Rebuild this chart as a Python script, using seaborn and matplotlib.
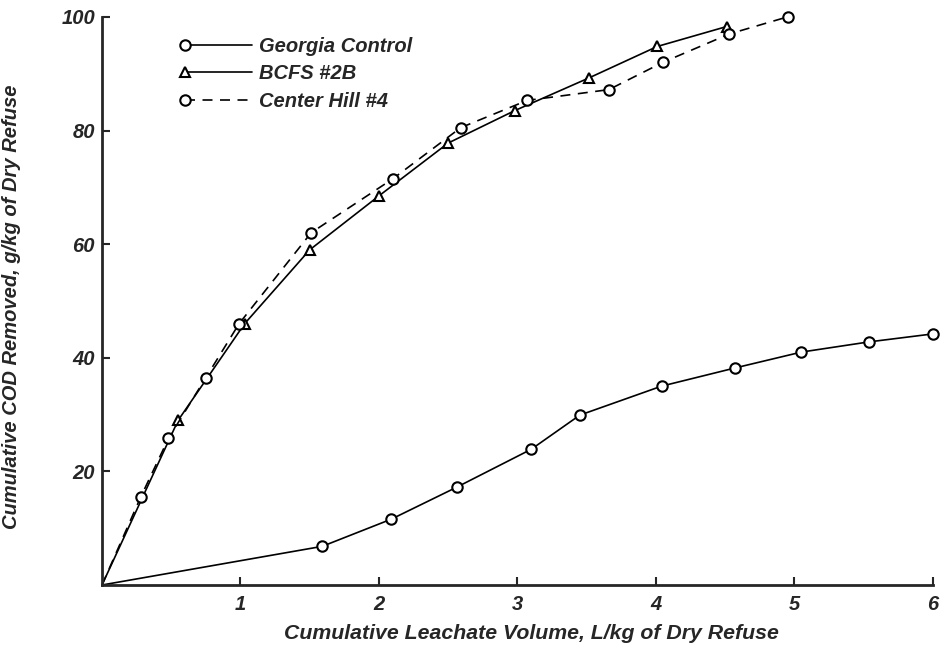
import numpy as np
import pandas as pd
import matplotlib
matplotlib.use("Agg")
import matplotlib.pyplot as plt
import seaborn as sns
from matplotlib.legend_handler import HandlerLine2DCompound

# 数据
georgia_x = [0, 1.59, 2.09, 2.56, 3.10, 3.45, 4.04, 4.57, 5.05, 5.54, 6.0]
georgia_y = [0, 6.8, 11.6, 17.2, 23.9, 29.9, 35.0, 38.2, 41.0, 42.8, 44.2]

bcfs_x = [0, 0.55, 1.03, 1.50, 2.00, 2.50, 2.98, 3.52, 4.01, 4.51]
bcfs_y = [0, 29.0, 46.0, 59.0, 68.5, 77.8, 83.5, 89.3, 94.8, 98.3]

center_x = [0, 0.28, 0.48, 0.75, 0.99, 1.51, 2.10, 2.59, 3.07, 3.66, 4.05, 4.53, 4.95]
center_y = [0, 15.5, 25.8, 36.5, 46.0, 62.0, 71.5, 80.5, 85.3, 87.2, 92.0, 97.0, 100.0]

x_ticks = [1, 2, 3, 4, 5, 6]
y_ticks = [20, 40, 60, 80, 100]


class LeftMarkerHandler(HandlerLine2DCompound):
    # 图例: 标记放在线段左端
    def get_xdata(self, legend, xdescent, ydescent, width, height, fontsize):
        xdata = np.array([-xdescent, -xdescent + width])
        return xdata, np.array([-xdescent])

    def create_artists(self, *args, **kwargs):
        artists = super().create_artists(*args, **kwargs)
        for a in artists:
            a.set_markevery(None)
        return artists


sns.set_style("ticks")
plt.rcParams['font.family'] = ['Liberation Sans', 'DejaVu Sans']

fig = plt.figure(figsize=(9.4, 6.5), dpi=100)
ax = fig.add_axes([0.1085, 0.10, 0.884, 0.874])

line_kw = dict(color='black', linewidth=1.2, markersize=7.5, markeredgewidth=1.5,
               markerfacecolor='white', markeredgecolor='black',
               markevery=slice(1, None), sort=False, estimator=None, clip_on=False)

sns.lineplot(x=georgia_x, y=georgia_y, ax=ax, marker='o', linestyle='-',
             label='Georgia Control', **line_kw)
sns.lineplot(x=bcfs_x, y=bcfs_y, ax=ax, marker='^', linestyle='-',
             label='BCFS #2B', **line_kw)
sns.lineplot(x=center_x, y=center_y, ax=ax, marker='o', linestyle=(0, (6, 4.5)),
             label='Center Hill #4', **line_kw)

ax.set_xlim(0, 6)
ax.set_ylim(0, 100)
ax.set_xticks(x_ticks)
ax.set_yticks(y_ticks)
ax.set_xticklabels([str(t) for t in x_ticks], fontsize=14.5, fontweight='bold', fontstyle='italic')
ax.set_yticklabels([str(t) for t in y_ticks], fontsize=14.5, fontweight='bold', fontstyle='italic')
ax.tick_params(direction='in', length=6, width=1.5)
ax.tick_params(axis='x', pad=7)
ax.tick_params(axis='y', pad=5)

sns.despine(ax=ax)
for s in ['left', 'bottom']:
    ax.spines[s].set_linewidth(2)

ax.set_xlabel('Cumulative Leachate Volume, L/kg of Dry Refuse', fontsize=15.3,
              fontweight='bold', fontstyle='italic')
ax.set_ylabel('Cumulative COD Removed, g/kg of Dry Refuse', fontsize=14.5,
              fontweight='bold', fontstyle='italic')
ax.xaxis.set_label_coords(0.517, -0.068)
ax.yaxis.set_label_coords(-0.097, 0.49)

handles, labels = ax.get_legend_handles_labels()
leg = ax.legend(handles, labels, loc='upper left', bbox_to_anchor=(0.10, 0.965),
                frameon=False, fontsize=14.5, handlelength=3.3, handletextpad=0.35,
                labelspacing=0.42, borderpad=0, borderaxespad=0,
                handler_map={h: LeftMarkerHandler() for h in handles})
for t in leg.get_texts():
    t.set_fontweight('bold')
    t.set_fontstyle('italic')

plt.savefig('out.png', dpi=100)
